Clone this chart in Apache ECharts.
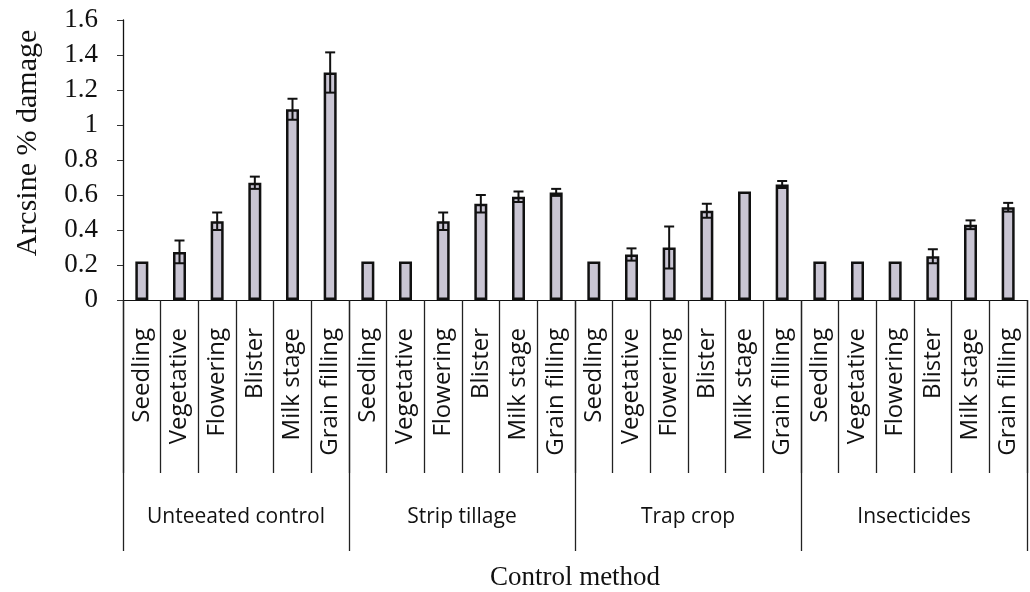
<!DOCTYPE html>
<html>
<head>
<meta charset="utf-8">
<script src="https://cdn.jsdelivr.net/npm/echarts@6.0.0/dist/echarts.min.js"></script>
<style>
  html, body { margin: 0; padding: 0; background: #fff; }
  #chart { width: 1030px; height: 592px; }
</style>
</head>
<body>
<div id="chart"></div>
<script>
// growth stages repeated for every control method
const stages = ["Seedling", "Vegetative", "Flowering", "Blister", "Milk stage", "Grain filling"];
const methods = ["Unteeated control", "Strip tillage", "Trap crop", "Insecticides"];

// mean arcsine % damage per method (in stage order)
const untreatedMean = [0.22, 0.275, 0.45, 0.67, 1.09, 1.30];
const stripMean     = [0.22, 0.22, 0.45, 0.55, 0.59, 0.615];
const trapMean      = [0.22, 0.26, 0.30, 0.51, 0.62, 0.66];
const insectMean    = [0.22, 0.22, 0.22, 0.25, 0.43, 0.53];

// standard errors
const untreatedErr = [0, 0.065, 0.05, 0.035, 0.06, 0.115];
const stripErr     = [0, 0, 0.05, 0.05, 0.03, 0.02];
const trapErr      = [0, 0.035, 0.12, 0.04, 0, 0.02];
const insectErr    = [0, 0, 0, 0.04, 0.025, 0.025];

const yTicks = { min: 0, max: 1.6, interval: 0.2 };

const categories = [];
methods.forEach(() => stages.forEach(s => categories.push(s)));
const means = [].concat(untreatedMean, stripMean, trapMean, insectMean);
const errs = [].concat(untreatedErr, stripErr, trapErr, insectErr);
const errData = means.map((m, i) => [i, m - errs[i], m + errs[i]]);

const chart = echarts.init(document.getElementById("chart"));

const serif = "'Liberation Serif', 'Times New Roman', serif";
const sans = "'Open Sans', 'DejaVu Sans', sans-serif";

chart.setOption({
  animation: false,
  backgroundColor: "#fff",
  grid: { left: 123, right: 3, top: 20, bottom: 290 },
  xAxis: [
    {
      type: "category",
      data: categories,
      boundaryGap: true,
      axisLine: { show: true, lineStyle: { color: "#111", width: 1 } },
      axisTick: { show: true, interval: 0, length: 173, lineStyle: { color: "#222", width: 1.3 } },
      axisLabel: {
        interval: 0, rotate: 90, margin: 28,
        fontFamily: sans, fontSize: 24, color: "#111"
      }
    },
    {
      type: "category",
      data: methods,
      position: "bottom",
      boundaryGap: true,
      axisLine: { show: false },
      axisTick: { show: true, interval: 0, length: 251, lineStyle: { color: "#222", width: 1.3 } },
      axisLabel: {
        interval: 0, margin: 207,
        fontFamily: sans, fontSize: 21, color: "#111"
      },
      name: "Control method",
      nameLocation: "middle",
      nameGap: 264,
      nameTextStyle: { fontFamily: serif, fontSize: 27, color: "#111" }
    }
  ],
  yAxis: {
    type: "value",
    min: yTicks.min,
    max: yTicks.max,
    interval: yTicks.interval,
    axisLine: { show: true, lineStyle: { color: "#111", width: 1.3 } },
    axisTick: { show: true, length: 6, lineStyle: { color: "#333" } },
    splitLine: { show: false },
    axisLabel: { margin: 25, fontFamily: serif, fontSize: 27, color: "#111" },
    name: "Arcsine % damage",
    nameLocation: "middle",
    nameGap: 80,
    nameTextStyle: { fontFamily: serif, fontSize: 30, color: "#111", padding: [0, 0, 0, 34] }
  },
  series: [
    {
      type: "bar",
      data: means,
      barWidth: 13,
      itemStyle: { color: "#c9c5d3", borderColor: "#111", borderWidth: 2.5 }
    },
    {
      type: "custom",
      data: errData,
      z: 10,
      renderItem: function (params, api) {
        const x = api.value(0);
        const lo = api.coord([x, api.value(1)]);
        const hi = api.coord([x, api.value(2)]);
        if (Math.abs(hi[1] - lo[1]) < 0.5) return null;
        const hw = 5;
        const style = { stroke: "#111", lineWidth: 2 };
        return {
          type: "group",
          children: [
            { type: "line", shape: { x1: lo[0], y1: lo[1], x2: hi[0], y2: hi[1] }, style: style },
            { type: "line", shape: { x1: hi[0] - hw, y1: hi[1], x2: hi[0] + hw, y2: hi[1] }, style: style },
            { type: "line", shape: { x1: lo[0] - hw, y1: lo[1], x2: lo[0] + hw, y2: lo[1] }, style: style }
          ]
        };
      }
    }
  ]
});
</script>
</body>
</html>
